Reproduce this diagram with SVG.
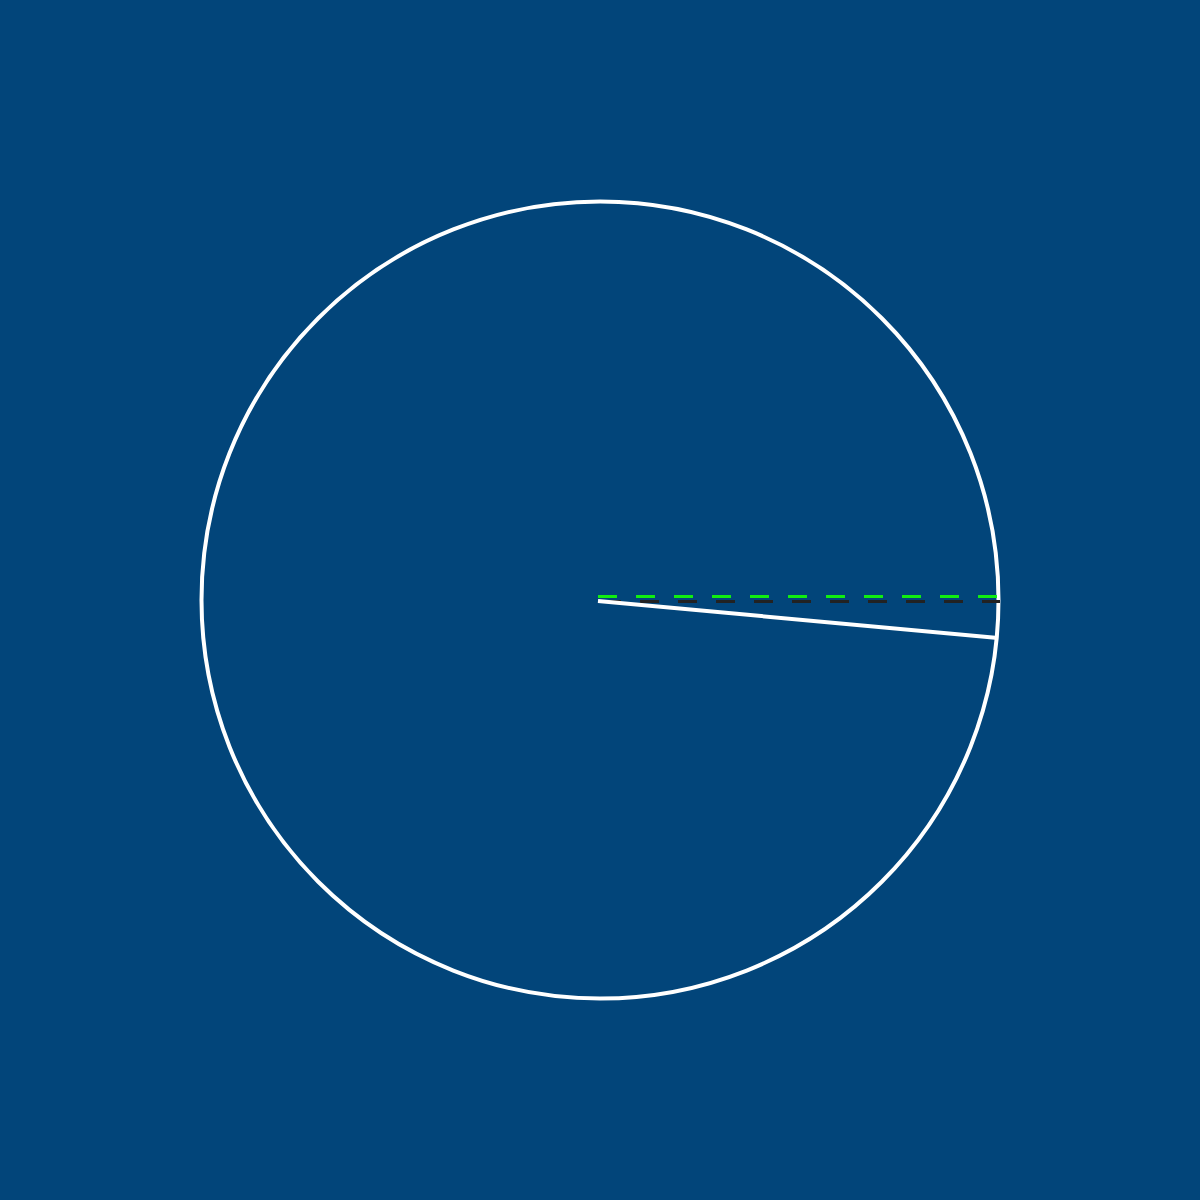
<svg xmlns="http://www.w3.org/2000/svg" width="1200" height="1200" viewBox="0 0 1200 1200">
<style>
.dash{fill:none;stroke-width:3;stroke-dasharray:19 19}
</style>
<rect width="1200" height="1200" fill="#02457a"/>
<g id="dial">
<circle cx="600" cy="600" r="398.5" fill="none" stroke="#ffffff" stroke-width="4"/>
</g>
<g id="connectors">
<line class="dash" x1="602" y1="601.5" x2="1000" y2="601.5" stroke="#222222"/>
<line class="dash" x1="598" y1="596.5" x2="1000" y2="596.5" stroke="#11ee11"/>
<line x1="598" y1="601" x2="998" y2="638" stroke="#ffffff" stroke-width="4"/>
</g>
</svg>
